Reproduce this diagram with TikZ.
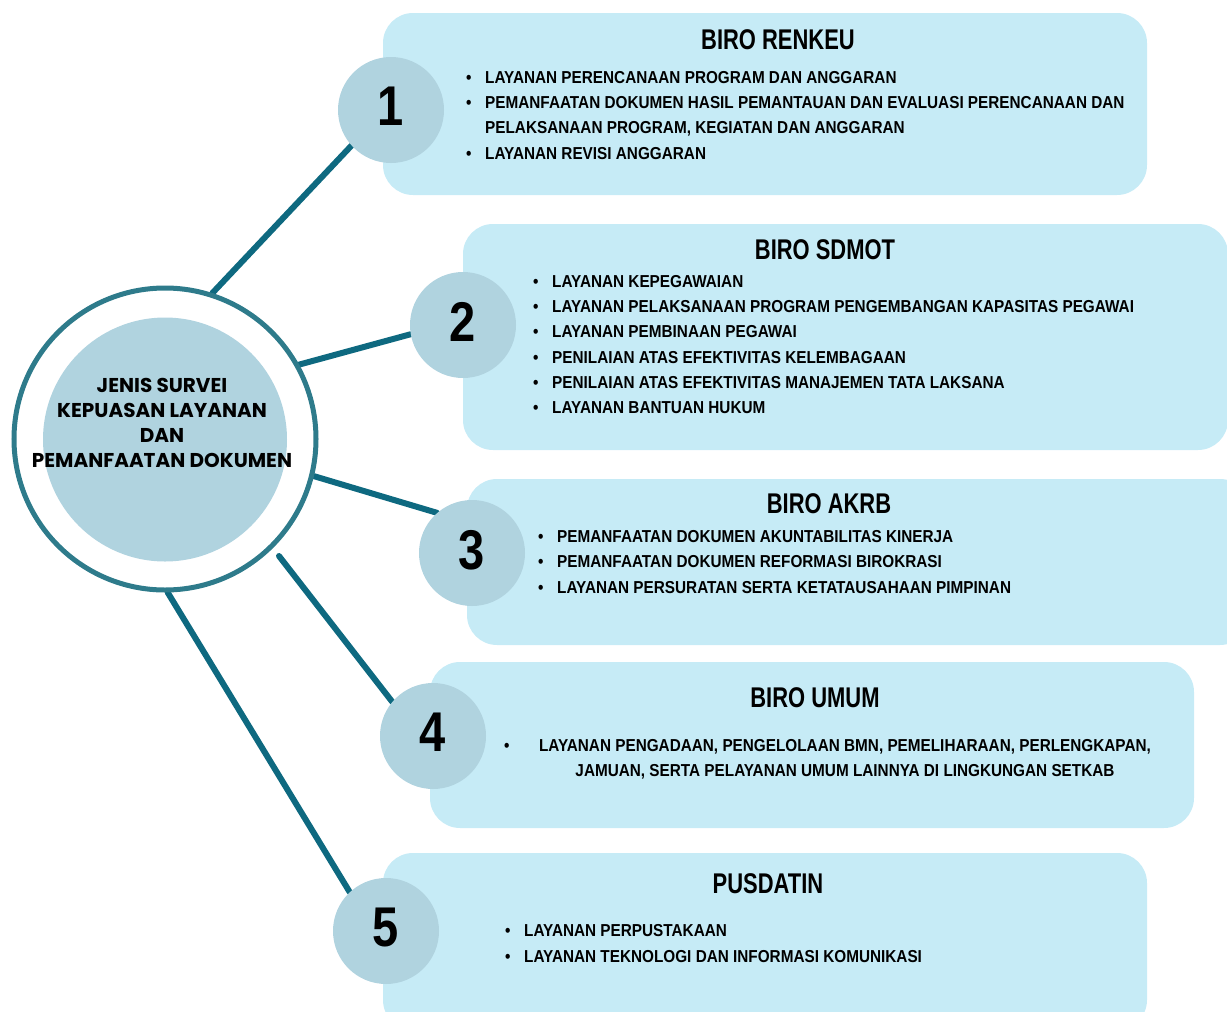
\documentclass[tikz,border=0pt]{standalone}
\usepackage{fontspec}
\setmainfont{Liberation Sans}
\newfontfamily\bodyfont[FakeStretch=0.885]{Liberation Sans}
\newfontfamily\titlefont[FakeStretch=0.77]{Liberation Sans}
\newfontfamily\numfont[FakeStretch=0.84]{Liberation Sans}
\newfontfamily\centfont{Poppins}
\usetikzlibrary{backgrounds}
\definecolor{boxfill}{HTML}{C6EBF6}
\definecolor{circfill}{HTML}{B0D3DF}
\definecolor{ringcol}{HTML}{2E7B8B}
\definecolor{linecol}{HTML}{0E6980}
\tikzset{
  panel/.style={fill=boxfill, rounded corners=30pt},
  numcirc/.style={circle, fill=circfill, minimum size=106pt, inner sep=0pt,
    font=\numfont\bfseries\fontsize{56}{56}\selectfont},
  conn/.style={draw=linecol, line width=6pt, line cap=round},
  ttl/.style={anchor=base, inner sep=0pt, font=\titlefont\bfseries\fontsize{28.5}{30}\selectfont},
  itemtxt/.style={anchor=base west, inner sep=0pt, font=\bodyfont\bfseries\fontsize{17.3}{19}\selectfont},
  ctrtxt/.style={anchor=base, inner sep=0pt, font=\centfont\bfseries\fontsize{20}{22}\selectfont},
}
\newcommand\itm[4]{\node[itemtxt] (#1) at (#2,#3) {\makebox[19pt][l]{\textbullet}#4};}
\newcommand\dig[1]{\raisebox{7pt}{#1}}
\begin{document}
\begin{tikzpicture}[x=1pt,y=-1pt]
\useasboundingbox (0,0) rectangle (1227,1012);
\clip (0,0) rectangle (1227,1012);
% hub
\node[circle, draw=ringcol, line width=5pt, minimum size=302pt, inner sep=0pt] (hub) at (165,439) {};
\node[circle, fill=circfill, minimum size=244pt, inner sep=0pt] (hubin) at (165,439.5) {};
\node[ctrtxt] (h1) at (162,392.5) {JENIS SURVEI};
\node[ctrtxt] (h2) at (162,417.5) {KEPUASAN LAYANAN};
\node[ctrtxt] (h3) at (162,442.5) {DAN};
\node[ctrtxt] (h4) at (162,467.5) {PEMANFAATAN DOKUMEN};
% number circles
\node[numcirc] (c1) at (391,110) {\dig{1}};
\node[numcirc] (c2) at (463,325) {\dig{2}};
\node[numcirc] (c3) at (472,553) {\dig{3}};
\node[numcirc] (c4) at (433,736) {\dig{4}};
\node[numcirc] (c5) at (386,931) {\dig{5}};
\coordinate (l4s) at (279,556);
\begin{scope}[on background layer]
\fill[panel] (383,13) rectangle (1147,195);
\fill[panel] (463,224) rectangle (1228,450);
\fill[panel] (467,479) rectangle (1250,645);
\fill[panel] (430,662) rectangle (1194,828);
\fill[panel] (383,853) rectangle (1147,1030);
\draw[conn] (hub.72.5) -- (c1.222);
\draw[conn] (hub.29.7) -- (c2.190);
\draw[conn] (hub.-14.2) -- (c3.131);
\draw[conn] (l4s) -- (c4.140);
\draw[conn] (hub.-89.3) -- (c5.133.5);
\end{scope}
% box 1
\node[ttl] (t1) at (778,49) {BIRO RENKEU};
\itm{b1a}{466}{83}{LAYANAN PERENCANAAN PROGRAM DAN ANGGARAN}
\itm{b1b}{466}{108}{PEMANFAATAN DOKUMEN HASIL PEMANTAUAN DAN EVALUASI PERENCANAAN DAN}
\node[itemtxt] (b1c) at (485,133) {PELAKSANAAN PROGRAM, KEGIATAN DAN ANGGARAN};
\itm{b1d}{466}{159}{LAYANAN REVISI ANGGARAN}
% box 2
\node[ttl] (t2) at (825,259) {BIRO SDMOT};
\itm{b2a}{533}{287}{LAYANAN KEPEGAWAIAN}
\itm{b2b}{533}{312}{LAYANAN PELAKSANAAN PROGRAM PENGEMBANGAN KAPASITAS PEGAWAI}
\itm{b2c}{533}{337}{LAYANAN PEMBINAAN PEGAWAI}
\itm{b2d}{533}{363}{PENILAIAN ATAS EFEKTIVITAS KELEMBAGAAN}
\itm{b2e}{533}{388}{PENILAIAN ATAS EFEKTIVITAS MANAJEMEN TATA LAKSANA}
\itm{b2f}{533}{413}{LAYANAN BANTUAN HUKUM}
% box 3
\node[ttl] (t3) at (829,513) {BIRO AKRB};
\itm{b3a}{538}{542}{PEMANFAATAN DOKUMEN AKUNTABILITAS KINERJA}
\itm{b3b}{538}{567}{PEMANFAATAN DOKUMEN REFORMASI BIROKRASI}
\itm{b3c}{538}{593}{LAYANAN PERSURATAN SERTA KETATAUSAHAAN PIMPINAN}
% box 4
\node[ttl] (t4) at (815,707) {BIRO UMUM};
\node[itemtxt] (b4dot) at (504,751) {\textbullet};
\node[itemtxt, anchor=base] (b4a) at (845,751) {LAYANAN PENGADAAN, PENGELOLAAN BMN, PEMELIHARAAN, PERLENGKAPAN,};
\node[itemtxt, anchor=base] (b4b) at (845,776) {JAMUAN, SERTA PELAYANAN UMUM LAINNYA DI LINGKUNGAN SETKAB};
% box 5
\node[ttl] (t5) at (768,893) {PUSDATIN};
\itm{b5a}{505}{936}{LAYANAN PERPUSTAKAAN}
\itm{b5b}{505}{962}{LAYANAN TEKNOLOGI DAN INFORMASI KOMUNIKASI}
\end{tikzpicture}
\end{document}
